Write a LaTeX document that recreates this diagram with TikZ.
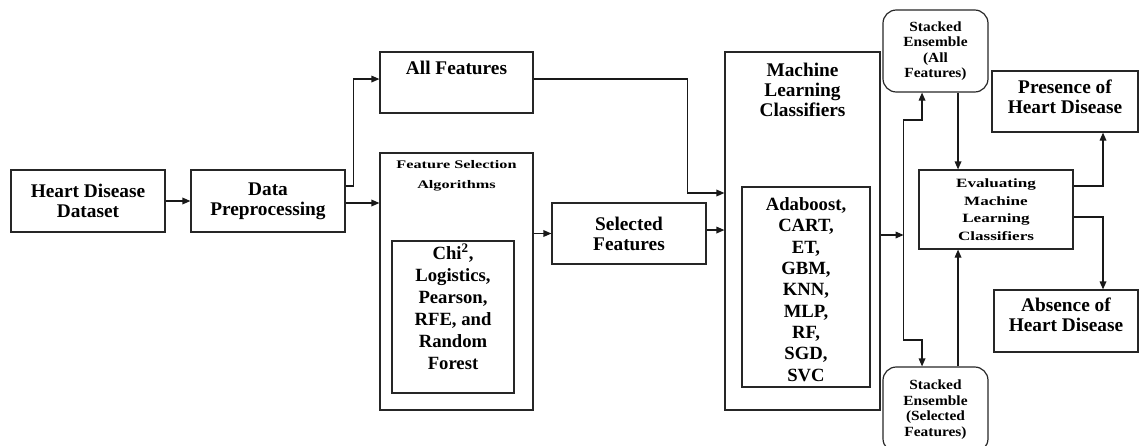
\documentclass[tikz,border=0pt]{standalone}
\usepackage{fontspec}
\setmainfont{Liberation Serif}
\newfontfamily\evalfont{Liberation Serif}[FakeStretch=1.35]
\newfontfamily\fsfont{Liberation Serif}[FakeStretch=1.4]
\newfontfamily\sefont{Liberation Serif}[FakeStretch=1.1]
\usetikzlibrary{arrows.meta,calc}
\begin{document}
\begin{tikzpicture}[x=0.75pt,y=-0.75pt,
  box/.style={draw=black!85, line width=0.9pt, inner sep=0pt, align=center,
    font=\bfseries\fontsize{14.5}{15}\selectfont},
  rbox/.style={box, rounded corners=10pt},
  mf/.style={font=\bfseries\fontsize{14.5}{15}\selectfont, align=center, inner sep=0pt},
  lf/.style={font=\bfseries\fontsize{14}{16}\selectfont, align=center, inner sep=0pt},
  cf/.style={font=\bfseries\fontsize{14}{16.5}\selectfont, align=center, inner sep=0pt},
  fsf/.style={font=\fsfont\bfseries\fontsize{8.7}{15}\selectfont, align=center, inner sep=0pt},
  sef/.style={font=\sefont\bfseries\fontsize{10.5}{11.6}\selectfont},
  evf/.style={font=\evalfont\bfseries\fontsize{9.5}{13.1}\selectfont},
  arr/.style={-{Triangle[length=6pt,width=5pt]}, line width=0.9pt, draw=black!90},
  ln/.style={line width=0.9pt, draw=black!90},
]
\useasboundingbox (0,0) rectangle (1139,446);

% boxes
\node[box, minimum width=115.5pt, minimum height=46.5pt] (hdd) at (88,201) {Heart Disease\\Dataset};
\node[box, minimum width=115.5pt, minimum height=46.5pt] (dp) at (268,201) {Data\\Preprocessing};
\node[box, minimum width=114.75pt, minimum height=45.75pt,
  label={[mf, anchor=center, yshift=-12.75pt]north:All Features}] (allf) at (456.5,82.5) {};
\node[box, minimum width=114.75pt, minimum height=192.75pt,
  label={[fsf, anchor=center, yshift=-17.25pt]north:Feature Selection\\Algorithms}] (fsa) at (456.5,281.5) {};
\node[box, minimum width=91.5pt, minimum height=114pt,
  label={[cf, anchor=center, yshift=-49.5pt]north:Chi\textsuperscript{2},\\Logistics,\\Pearson,\\RFE, and\\Random\\Forest}] (fsin) at (453,317) {};
\node[box, minimum width=115.5pt, minimum height=45.75pt] (sf) at (629,233.5) {Selected\\Features};
\node[box, minimum width=116.25pt, minimum height=268.5pt,
  label={[mf, anchor=center, yshift=-28.5pt]north:Machine\\Learning\\Classifiers}] (ml) at (802.5,231) {};
\node[box, minimum width=96pt, minimum height=150pt,
  label={[lf, anchor=center, yshift=-77.25pt]north:Adaboost,\\CART,\\ET,\\GBM,\\KNN,\\MLP,\\RF,\\SGD,\\SVC}] (mlin) at (806,287) {};
\node[rbox, sef, minimum width=78.75pt, minimum height=61.5pt] (seall) at (935.5,51) {Stacked\\Ensemble\\(All\\Features)};
\node[rbox, sef, minimum width=78.75pt, minimum height=63.75pt] (sesel) at (935.5,409.5) {Stacked\\Ensemble\\(Selected\\Features)};
\node[box, evf, minimum width=115.5pt, minimum height=59.25pt] (eval) at (996,209.5) {Evaluating\\Machine\\Learning\\Classifiers};
\node[box, minimum width=109.5pt, minimum height=45.75pt,
  label={[mf, anchor=center, yshift=-19.5pt]north:Presence of\\Heart Disease}] (pres) at (1065,101.5) {};
\node[box, minimum width=108pt, minimum height=46.5pt,
  label={[mf, anchor=center, yshift=-18.75pt]north:Absence of\\Heart Disease}] (abs) at (1066,321) {};

% connectors
\draw[arr] (hdd.east) -- (dp.west);
\draw[arr] ([yshift=11.25pt]dp.east) -- ++(6pt,0) |- ([yshift=2.6pt]allf.west);
\draw[arr] ([yshift=-1.5pt]dp.east) -- ([yshift=-1.5pt]dp.east -| fsa.west);
\draw[arr] (sf.west -| fsa.east) -- (sf.west);
\draw[arr] ([yshift=2.6pt]allf.east) -- ++(115.5pt,0) |- ([yshift=28.5pt]ml.west);
\draw[arr] ([yshift=2.6pt]sf.east) -- ([yshift=2.6pt]sf.east -| ml.west);
\path ([yshift=-3pt]ml.east) ++(17.25pt,0) coordinate (j);
\draw[arr] ([yshift=-3pt]ml.east) -- (j);
\draw[arr] (j) -- ++(0,-115) -| ([xshift=-10.1pt]seall.south);
\draw[arr] (j) -- ++(0,105) -| ([xshift=-10.1pt]sesel.north);
\draw[arr] ([xshift=16.9pt]seall.south) -- ([xshift=16.9pt]seall.south |- eval.north);
\draw[arr] ([xshift=16.9pt]sesel.north) -- ([xshift=16.9pt]sesel.north |- eval.south);
\draw[arr] ([yshift=17.6pt]eval.east) -| ([xshift=28.5pt]pres.south);
\draw[arr] ([yshift=-5.6pt]eval.east) -| ([xshift=27.75pt]abs.north);
\end{tikzpicture}
\end{document}
